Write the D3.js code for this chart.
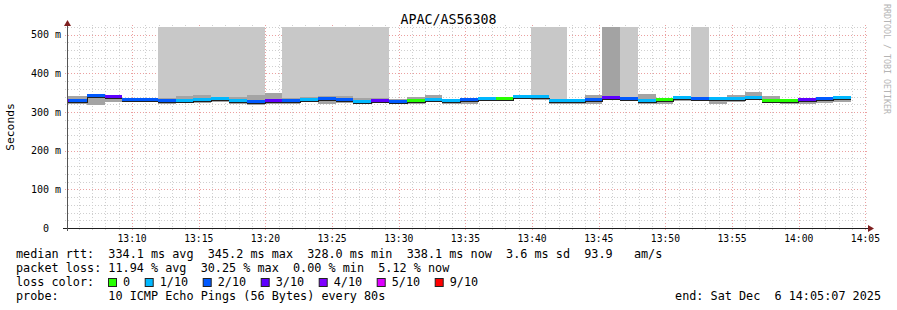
<!DOCTYPE html>
<html>
<head>
<meta charset="utf-8">
<script src="https://cdn.jsdelivr.net/npm/d3@7"></script>
<style>
  body { margin: 0; background: #fff; }
  text { font-family: "DejaVu Sans Mono", monospace; white-space: pre; }
</style>
</head>
<body>
<div id="chart"></div>
<script>
// chart data
const title = "APAC/AS56308";
const startTime = "13:05:07", endTime = "14:05:07";
const firstStep = "13:03:56";   // start of the first (partly hidden) 80s step
const stepSeconds = 80;

// median rtt per step (ms)
const medianMs = [332, 332, 344, 342, 333, 335, 331, 330, 335, 336, 331, 328, 330, 331, 334,
  336, 333, 329, 331, 328, 330, 334, 331, 333, 337, 337, 342, 342, 330, 330,
  335, 338, 336, 331, 333, 339, 337, 336, 336, 338, 331, 330, 335, 337, 339];
// loss level per step (index into lossColors)
const lossLevel = [3, 2, 2, 3, 2, 2, 2, 1, 1, 1, 1, 2, 3, 2, 1,
  2, 2, 1, 3, 2, 0, 1, 1, 2, 1, 0, 1, 1, 1, 1,
  2, 3, 2, 1, 0, 1, 2, 1, 1, 1, 0, 0, 3, 2, 1];
// visible smoke, lowest and highest ping (ms)
const smokeLo = [321, 321, 319, 326, 326, 329, 321, 324, 324, 327, 322, 319, 322, 320, 325,
  322, 324, 322, 324, 320, 320, 328, 321, 322, 334, 335, 339, 330, 321, 321,
  320, 331, 329, 320, 320, 328, 331, 321, 326, 333, 331, 320, 320, 324, 326];
const smokeHi = [342, 342, 345, 343, 336, 337, 337, 342, 344, 340, 340, 344, 348, 337, 338,
  342, 342, 336, 336, 335, 340, 343, 334, 335, 339, 338, 345, 345, 333, 332,
  345, 340, 338, 346, 334, 340, 340, 336, 343, 352, 342, 331, 337, 337, 340];
// pings above the top of the chart
const offChart = [0, 0, 0, 0, 0, 0, 1, 1, 1, 1, 1, 1, 0, 1, 1,
  1, 1, 1, 1, 0, 0, 0, 0, 0, 0, 0, 0, 1, 1, 0,
  0, 2, 1, 0, 0, 0, 1, 0, 0, 0, 0, 0, 0, 0, 0];

const lossLabels = ["0", "1/10", "2/10", "3/10", "4/10", "5/10", "9/10"];
const lossColors = ["#26ff00", "#00b8ff", "#0059ff", "#5e00ff", "#7e00ff", "#dd00ff", "#ff0000"];
const yTicks = [0, 100, 200, 300, 400, 500];
const yMax = 520;

const statLines = [
  "median rtt:  334.1 ms avg  345.2 ms max  328.0 ms min  338.1 ms now  3.6 ms sd  93.9   am/s",
  "packet loss: 11.94 % avg  30.25 % max  0.00 % min  5.12 % now"
];
const probeLine = "probe:       10 ICMP Echo Pings (56 Bytes) every 80s";
const endLine = "end: Sat Dec  6 14:05:07 2025";

const width = 897, height = 310;
const plotLeft = 67, plotRight = 867, plotTop = 27, plotBottom = 228;

const parse = d3.timeParse("%H:%M:%S");
const x = d3.scaleTime().domain([parse(startTime), parse(endTime)]).range([plotLeft, plotRight]);
const y = d3.scaleLinear().domain([0, yMax]).range([plotBottom, plotTop]);

const svg = d3.select("#chart").append("svg")
  .attr("width", width).attr("height", height)
  .style("display", "block");

svg.append("rect").attr("width", width).attr("height", height).attr("fill", "#fff");

// grid
const grid = svg.append("g");
const minutes = d3.timeMinute.range(x.domain()[0], x.domain()[1]);
minutes.forEach(t => {
  const major = t.getMinutes() % 5 === 0;
  const xx = Math.round(x(t)) + 0.5;
  grid.append("line")
    .attr("x1", xx).attr("x2", xx).attr("y1", plotTop - 2).attr("y2", plotBottom + 2)
    .attr("stroke", major ? "#eba0a0" : "#cfcfcf")
    .attr("stroke-dasharray", "1,2");
});
d3.range(20, yMax + 1, 20).forEach(v => {
  const major = v % 100 === 0;
  const yy = Math.round(y(v)) + 0.5;
  grid.append("line")
    .attr("x1", plotLeft - 2).attr("x2", plotRight + 2).attr("y1", yy).attr("y2", yy)
    .attr("stroke", major ? "#eba0a0" : "#cfcfcf")
    .attr("stroke-dasharray", "1,2");
});

// steps
const t0 = parse(firstStep);
const steps = medianMs.map((m, i) => {
  const s = new Date(t0.getTime() + i * stepSeconds * 1000);
  const e = new Date(s.getTime() + stepSeconds * 1000);
  return {
    x0: Math.round(Math.max(plotLeft, x(s))), x1: Math.round(Math.min(plotRight, x(e))),
    median: m, loss: lossLevel[i], lo: smokeLo[i], hi: smokeHi[i], off: offChart[i]
  };
});

const plot = svg.append("g").attr("shape-rendering", "crispEdges");

// pings above the chart
plot.selectAll(".off").data(steps.filter(d => d.off > 0)).enter().append("rect")
  .attr("x", d => d.x0).attr("width", d => d.x1 - d.x0)
  .attr("y", y(yMax)).attr("height", d => y(d.hi) - y(yMax))
  .attr("fill", d => d.off > 1 ? "#a3a3a3" : "#c8c8c8");

// smoke
plot.selectAll(".smoke").data(steps).enter().append("rect")
  .attr("x", d => d.x0).attr("width", d => d.x1 - d.x0)
  .attr("y", d => y(d.hi)).attr("height", d => y(d.lo) - y(d.hi))
  .attr("fill", "#a4a4a4");

// thin median line
const medLine = d3.line().curve(d3.curveStepAfter).x(d => d[0]).y(d => d[1]);
const medPts = [];
steps.forEach(d => { medPts.push([d.x0, Math.round(y(d.median)) + 2.5]); });
medPts.push([steps[steps.length - 1].x1, Math.round(y(steps[steps.length - 1].median)) + 2.5]);
plot.append("path").attr("d", medLine(medPts))
  .attr("fill", "none").attr("stroke", "#202020").attr("stroke-width", 1);

// loss coloured median band
plot.selectAll(".med").data(steps).enter().append("rect")
  .attr("x", d => d.x0).attr("width", d => d.x1 - d.x0)
  .attr("y", d => Math.round(y(d.median)) - 1).attr("height", 3)
  .attr("fill", d => lossColors[d.loss]);

// axes
const axisG = svg.append("g");
axisG.append("line").attr("x1", plotLeft - 4).attr("x2", plotRight + 3)
  .attr("y1", plotBottom + 0.5).attr("y2", plotBottom + 0.5).attr("stroke", "#1f1f1f");
axisG.append("line").attr("x1", plotLeft + 0.5).attr("x2", plotLeft + 0.5)
  .attr("y1", plotBottom + 3).attr("y2", plotTop - 3).attr("stroke", "#555");
axisG.append("path").attr("d", `M${plotRight + 7},${plotBottom + 0.5}L${plotRight + 1},${plotBottom - 3}L${plotRight + 1},${plotBottom + 4}Z`)
  .attr("fill", "#7f1f1f");
axisG.append("path").attr("d", `M${plotLeft + 0.5},${plotTop - 7}L${plotLeft - 3},${plotTop - 1}L${plotLeft + 4},${plotTop - 1}Z`)
  .attr("fill", "#7f1f1f");

// tick labels
const xTicks = x.ticks(d3.timeMinute.every(5)).filter(t => x(t) > plotLeft + 20);
svg.append("g").selectAll("text").data(xTicks).enter().append("text")
  .attr("x", d => x(d)).attr("y", 241.5)
  .attr("text-anchor", "middle").attr("font-size", "9.7px").attr("fill", "#000")
  .text(d3.timeFormat("%H:%M"));

svg.append("g").selectAll("text").data(yTicks).enter().append("text")
  .attr("x", 61).attr("y", d => y(d) + 3.5)
  .attr("text-anchor", "end").attr("font-size", "10px").attr("fill", "#000")
  .attr("xml:space", "preserve")
  .text(d => d === 0 ? "0  " : d + " m");

// titles
svg.append("text").attr("x", 448.5).attr("y", 24).attr("text-anchor", "middle")
  .attr("font-size", "13.3px").text(title);
svg.append("text").attr("transform", "translate(14,127) rotate(-90)")
  .attr("text-anchor", "middle").attr("font-size", "11.3px").text("Seconds");
svg.append("text").attr("transform", "translate(884,4) rotate(90)")
  .attr("font-size", "8.3px").attr("fill", "#b4b4b4").text("RRDTOOL / TOBI OETIKER");

// legend
const fs = "11.8px", cw = 7.1;
statLines.forEach((s, i) => {
  svg.append("text").attr("x", 16).attr("y", 258 + i * 14).attr("font-size", fs)
    .attr("xml:space", "preserve").text(s);
});
svg.append("text").attr("x", 16).attr("y", 286).attr("font-size", fs).text("loss color:");
let cx = 108;
lossLabels.forEach((lab, i) => {
  svg.append("rect").attr("x", cx + 0.5).attr("y", 278.5).attr("width", 8).attr("height", 8)
    .attr("fill", lossColors[i]).attr("stroke", "#222").attr("stroke-width", 1);
  svg.append("text").attr("x", cx + 15).attr("y", 286).attr("font-size", fs).text(lab);
  cx = cx + 29.6 + lab.length * cw;
});
svg.append("text").attr("x", 16).attr("y", 300).attr("font-size", fs)
  .attr("xml:space", "preserve").text(probeLine);
svg.append("text").attr("x", 881).attr("y", 300).attr("text-anchor", "end")
  .attr("font-size", fs).attr("xml:space", "preserve").text(endLine);
</script>
</body>
</html>
